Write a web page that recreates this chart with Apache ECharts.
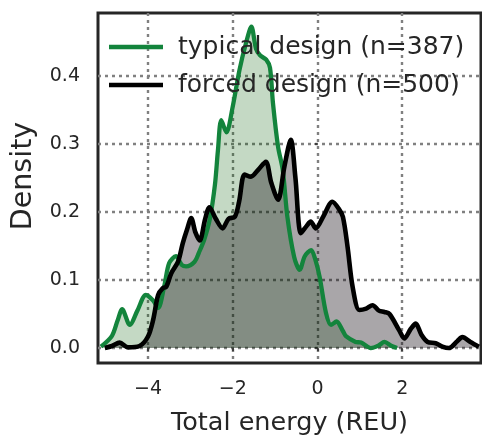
<!DOCTYPE html>
<html><head><meta charset="utf-8">
<script src="https://cdn.jsdelivr.net/npm/echarts@6/dist/echarts.min.js"></script>
<style>html,body{margin:0;padding:0;background:#fff;}#c{width:482px;height:438px;}</style>
</head><body><div id="c"></div>
<script>
const xTicks = [-4, -2, 0, 2];
const yTicks = [0, 0.1, 0.2, 0.3, 0.4];
const seriesNames = ['typical design (n=387)', 'forced design (n=500)'];

const typicalX = [-5.11,-4.85,-4.72,-4.61,-4.43,-4.25,-4.05,-3.88,-3.76,-3.62,-3.5,-3.34,-3.2,-3.1,-2.9,-2.8,-2.67,-2.54,-2.42,-2.35,-2.27,-2.15,-2.0,-1.84,-1.68,-1.56,-1.45,-1.35,-1.21,-1.12,-1.05,-0.93,-0.82,-0.71,-0.55,-0.42,-0.3,-0.15,-0.05,0.05,0.2,0.32,0.45,0.6,0.68,0.9,1.03,1.26,1.45,1.58,1.75,1.88];
const typicalY = [0.002,0.018,0.04,0.057,0.034,0.055,0.078,0.07,0.059,0.09,0.125,0.135,0.122,0.12,0.127,0.14,0.16,0.19,0.24,0.29,0.335,0.317,0.355,0.409,0.45,0.4725,0.44,0.43,0.424,0.412,0.36,0.296,0.262,0.193,0.134,0.115,0.135,0.144,0.13,0.105,0.052,0.034,0.039,0.025,0.017,0.009,0.008,0.0,0.004,0.009,0.003,0.0];

const forcedX = [-5.02,-4.85,-4.67,-4.47,-4.2,-4.0,-3.88,-3.76,-3.65,-3.57,-3.45,-3.29,-3.18,-3.08,-2.98,-2.88,-2.78,-2.65,-2.55,-2.4,-2.24,-2.1,-1.95,-1.85,-1.72,-1.57,-1.4,-1.22,-1.09,-0.93,-0.78,-0.63,-0.52,-0.39,-0.25,-0.16,-0.04,0.15,0.35,0.5,0.6,0.71,0.83,0.99,1.15,1.3,1.45,1.58,1.7,1.93,2.05,2.2,2.32,2.45,2.6,2.79,2.95,3.1,3.3,3.42,3.61,3.81];
const forcedY = [0.0,0.003,0.008,0.001,0.003,0.017,0.041,0.078,0.088,0.09,0.11,0.127,0.154,0.174,0.191,0.17,0.158,0.19,0.207,0.19,0.176,0.19,0.193,0.215,0.255,0.252,0.262,0.274,0.243,0.218,0.267,0.306,0.25,0.169,0.18,0.186,0.176,0.195,0.215,0.205,0.193,0.149,0.09,0.056,0.058,0.063,0.055,0.053,0.05,0.026,0.014,0.028,0.036,0.02,0.009,0.007,0.002,0.0,0.01,0.016,0.009,0.002];

const zip = (xs, ys) => xs.map((x, i) => [x, ys[i]]);
const FONT = 'DejaVu Sans';
const TXT = '#262626';
const GREEN = '#13843c';
const BLACK = '#000000';

const chart = echarts.init(document.getElementById('c'), null, {renderer: 'canvas'});
const gridLine = {show: true, lineStyle: {type: [3, 4], color: '#808080', width: 2.4}};
chart.setOption({
  animation: false,
  textStyle: {fontFamily: FONT},
  grid: {left: 98, right: 1, top: 13, bottom: 75, show: true, borderColor: TXT, borderWidth: 3,
         backgroundColor: 'transparent', outerBoundsMode: 'none', containLabel: false},
  legend: {
    data: seriesNames,
    orient: 'vertical', left: 104, top: 29,
    icon: 'rect', itemWidth: 54, itemHeight: 4.5, itemGap: 12,
    textStyle: {fontSize: 25, color: TXT, fontFamily: FONT, lineHeight: 26, padding: [0, 0, 0, 10]},
    z: 10
  },
  xAxis: {
    type: 'value', min: -5.18, max: 3.86,
    axisLine: {show: false},
    axisTick: {show: true, customValues: xTicks, length: 3, lineStyle: {color: TXT, width: 1.5}},
    axisLabel: {customValues: xTicks, fontSize: 19, color: TXT, margin: 17, fontFamily: FONT,
      formatter: v => String(v).replace('-', '\u2212')},
    splitLine: gridLine,
    name: 'Total energy (REU)', nameLocation: 'middle', nameGap: 47,
    nameTextStyle: {fontSize: 25.5, color: TXT, fontFamily: FONT}
  },
  yAxis: {
    type: 'value', min: -0.022, max: 0.4926,
    axisLine: {show: false},
    axisTick: {show: true, customValues: yTicks, length: 3, lineStyle: {color: TXT, width: 1.5}},
    axisLabel: {customValues: yTicks, fontSize: 19, color: TXT, margin: 18, fontFamily: FONT,
      formatter: v => v.toFixed(1)},
    splitLine: gridLine,
    name: 'Density', nameLocation: 'middle', nameGap: 60, nameRotate: 90,
    nameTextStyle: {fontSize: 28.5, color: TXT, fontFamily: FONT, padding: [0, 0, 0, 24]}
  },
  series: [
    {name: 'typical area', type: 'line', data: zip(typicalX, typicalY), smooth: 0.3, symbol: 'none',
     lineStyle: {width: 0}, areaStyle: {color: 'rgb(0,90,0)', opacity: 0.23, origin: 0}, silent: true, z: 1},
    {name: 'forced area', type: 'line', data: zip(forcedX, forcedY), smooth: 0.3, symbol: 'none',
     lineStyle: {width: 0}, areaStyle: {color: 'rgb(10,0,10)', opacity: 0.35, origin: 0}, silent: true, z: 2},
    {name: seriesNames[0], type: 'line', data: zip(typicalX, typicalY), smooth: 0.3, symbol: 'none',
     itemStyle: {color: GREEN}, lineStyle: {color: GREEN, width: 4.3}, z: 3},
    {name: seriesNames[1], type: 'line', data: zip(forcedX, forcedY), smooth: 0.3, symbol: 'none',
     itemStyle: {color: BLACK}, lineStyle: {color: BLACK, width: 4.6}, z: 4}
  ]
});
</script></body></html>
